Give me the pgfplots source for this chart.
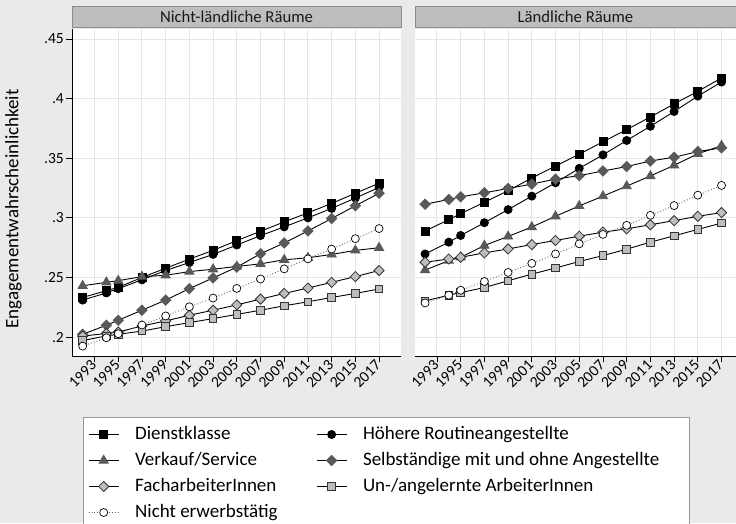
\documentclass[border=0pt]{standalone}
\usepackage{fontspec}
\setmainfont{Carlito}
\usepackage{pgfplots}
\usepackage{pgfplotstable}
\pgfplotsset{compat=1.18}
\definecolor{bg}{HTML}{EAEAEA}
\definecolor{gridc}{HTML}{E6E6E6}
\definecolor{hdr}{HTML}{BEBEBE}
\definecolor{hdredge}{HTML}{8C8C8C}
\definecolor{dk}{HTML}{595959}
\definecolor{lt}{HTML}{BDBDBD}

\pgfplotstableread{
year D H V S F U N
1992 .2332 .2310 .2430 .2023 .2008 .1970 .1924
1994 .2389 .2370 .2459 .2099 .2030 .2010 .1994
1995 .2417 .2406 .2473 .2141 .2042 .2023 .2028
1997 .2500 .2480 .2507 .2225 .2093 .2050 .2101
1999 .2577 .2558 .2518 .2310 .2135 .2087 .2177
2001 .2654 .2625 .2549 .2406 .2183 .2121 .2254
2003 .2727 .2693 .2569 .2496 .2225 .2155 .2327
2005 .2809 .2772 .2592 .2586 .2270 .2190 .2408
2007 .2887 .2851 .2614 .2699 .2318 .2225 .2487
2009 .2966 .2924 .2648 .2789 .2366 .2262 .2572
2011 .3042 .3000 .2665 .2890 .2411 .2296 .2656
2013 .3121 .3079 .2693 .2994 .2459 .2332 .2738
2015 .3206 .3166 .2727 .3101 .2507 .2366 .2825
2017 .3290 .3255 .2749 .3206 .2558 .2403 .2910
}\nonrural

\pgfplotstableread{
year D H V S F U N
1992 .2889 .2697 .2562 .3114 .2627 .2303 .2286
1994 .2985 .2796 .2641 .3154 .2655 .2351 .2351
1995 .3035 .2852 .2669 .3176 .2669 .2373 .2393
1997 .3131 .2959 .2768 .3210 .2706 .2415 .2466
1999 .3227 .3069 .2844 .3246 .2739 .2472 .2542
2001 .3334 .3182 .2923 .3283 .2776 .2528 .2618
2003 .3435 .3294 .3013 .3325 .2810 .2579 .2697
2005 .3534 .3415 .3100 .3354 .2846 .2634 .2782
2007 .3638 .3528 .3182 .3393 .2880 .2683 .2861
2009 .3740 .3649 .3266 .3430 .2908 .2737 .2937
2011 .3846 .3768 .3351 .3477 .2942 .2796 .3021
2013 .3956 .3892 .3441 .3508 .2976 .2849 .3103
2015 .4061 .4021 .3537 .3556 .3013 .2903 .3190
2017 .4173 .4139 .3605 .3587 .3044 .2956 .3272
}\rural

\pgfplotsset{
  sD/.style={black, line width=0.9pt, mark=square*, mark size=4pt, mark options={solid, fill=black, draw=black}},
  sH/.style={black, line width=0.9pt, mark=*, mark size=4pt, mark options={solid, fill=black, draw=black}},
  sV/.style={black, line width=0.9pt, mark=triangle*, mark size=5.2pt, mark options={solid, fill=dk, draw=dk}},
  sS/.style={black, line width=0.9pt, mark=square*, mark size=3.6pt, mark options={solid, rotate=45, fill=dk, draw=dk}},
  sF/.style={black, line width=0.9pt, mark=square*, mark size=3.6pt, mark options={solid, rotate=45, fill=lt, draw=black!80, line width=0.8pt}},
  sU/.style={black, line width=0.9pt, mark=square*, mark size=3.8pt, mark options={solid, fill=lt, draw=black!80, line width=0.8pt}},
  sN/.style={black!60, line width=0.9pt, dotted, mark=*, mark size=4pt, mark options={solid, fill=white, draw=black, line width=0.7pt}},
  common/.style={
    scale only axis, height=327pt,
    ymin=.1841, ymax=.4584,
    ytick={0.2,0.25,0.3,0.35,0.4,0.45},
    xtick={1993,1995,...,2017},
    xticklabels={1993,1995,1997,1999,2001,2003,2005,2007,2009,2011,2013,2015,2017},
    grid=major, grid style={gridc, line width=1pt},
    axis background/.style={fill=white},
    axis x line*=bottom, axis y line*=left,
    axis line style={-, black, line width=1pt},
    tick align=outside, major tick length=6pt,
    tick style={black, line width=0.8pt},
    /pgf/number format/assume math mode=true,
    xticklabel style={rotate=45, anchor=east, font=\fontsize{15.5}{17}\selectfont, inner sep=1pt},
    yticklabel style={font=\fontsize{15.5}{17}\selectfont, inner sep=2pt,
      /pgf/number format/.cd, fixed, precision=2, skip 0.},
    every axis title/.style={at={(0.5,1)}, anchor=south, yshift=1pt, fill=hdr, draw=hdredge, line width=0.6pt, minimum height=21pt, inner sep=0pt, font=\fontsize{16.7}{18}\selectfont, text=black!90},
    legend image code/.code={\draw[mark repeat=2,mark phase=2,##1] plot coordinates {(0pt,0pt) (15pt,0pt) (30pt,0pt)};},
  },
}

\begin{document}
\begin{tikzpicture}[x=1pt,y=1pt]
\fill[bg] (0,0) rectangle (736,523);
\useasboundingbox (0,0) rectangle (736,523);
\begin{axis}[common,
  at={(72pt,167pt)}, anchor=south west,
  width=329pt, xmin=1991.1, xmax=2018.85,
  title={Nicht-ländliche Räume}, title style={minimum width=329pt},
  ylabel={Engagementwahrscheinlichkeit},
  ylabel style={at={(ticklabel cs:0.45)}, font=\fontsize{19}{21}\selectfont},
  ylabel shift=17pt,
  legend columns=2,
  legend style={at={(0,0)}, anchor=north west, xshift=11pt, yshift=-61pt,
    fill=white, draw=black!40, line width=0.5pt,
    inner xsep=5pt, inner ysep=8pt, row sep=7.5pt,
    font=\fontsize{19}{21}\selectfont,
    nodes={inner xsep=0pt, inner ysep=0pt, text height=14pt, text depth=4.5pt},
    cells={anchor=west},
    /tikz/every odd column/.append style={column sep=16pt},
    /tikz/every even column/.append style={column sep=0pt}},
]
\addplot[sD] table[x=year,y=D]{\nonrural};
\addlegendentry{\makebox[181pt][l]{Dienstklasse}}
\addplot[sH] table[x=year,y=H]{\nonrural};
\addlegendentry{\makebox[321pt][l]{Höhere Routineangestellte}}
\addplot[sV] table[x=year,y=V]{\nonrural};
\addlegendentry{\makebox[181pt][l]{Verkauf/Service}}
\addplot[sS] table[x=year,y=S]{\nonrural};
\addlegendentry{\makebox[321pt][l]{Selbständige mit und ohne Angestellte}}
\addplot[sF] table[x=year,y=F]{\nonrural};
\addlegendentry{\makebox[181pt][l]{FacharbeiterInnen}}
\addplot[sU] table[x=year,y=U]{\nonrural};
\addlegendentry{\makebox[321pt][l]{Un-/angelernte ArbeiterInnen}}
\addplot[sN] table[x=year,y=N]{\nonrural};
\addlegendentry{\makebox[181pt][l]{Nicht erwerbstätig}}
\end{axis}
\begin{axis}[common,
  at={(415pt,167pt)}, anchor=south west,
  width=321pt, xmin=1991.15, xmax=2018.22,
  title={Ländliche Räume}, title style={minimum width=321pt},
  yticklabels={}, y axis line style={draw=none}, ytick style={draw=none},
]
\addplot[sD] table[x=year,y=D]{\rural};
\addplot[sH] table[x=year,y=H]{\rural};
\addplot[sV] table[x=year,y=V]{\rural};
\addplot[sS] table[x=year,y=S]{\rural};
\addplot[sF] table[x=year,y=F]{\rural};
\addplot[sU] table[x=year,y=U]{\rural};
\addplot[sN] table[x=year,y=N]{\rural};
\end{axis}
\end{tikzpicture}
\end{document}
